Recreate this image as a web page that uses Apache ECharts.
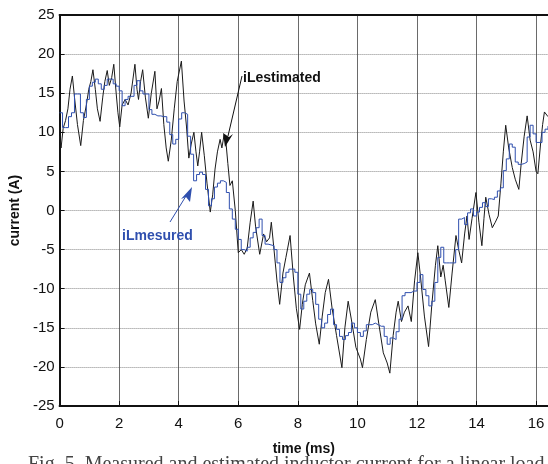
<!DOCTYPE html>
<html>
<head>
<meta charset="utf-8">
<script src="https://cdn.jsdelivr.net/npm/echarts@6/dist/echarts.min.js"></script>
<style>
  html, body { margin: 0; padding: 0; background: #fff; }
  #chart { width: 548px; height: 464px; }
</style>
</head>
<body>
<div id="chart"></div>
<script>
// Measured inductor current, sampled every 0.1 ms (held between samples)
const samplePeriod = 0.1;
const measuredValues = [
  12.5, 10.6, 10.6, 12.0, 12.5, 14.9, 14.9, 12.5, 11.9, 14.2,
  15.9, 16.4, 16.8, 16.2, 15.5, 16.0, 16.8, 16.8, 16.2, 15.9,
  15.3, 13.4, 14.2, 14.6, 14.6, 16.0, 16.6, 15.3, 14.9, 14.9,
  12.9, 12.3, 12.1, 12.1, 12.0, 12.0, 11.3, 9.7, 8.5, 9.1,
  11.7, 12.5, 12.3, 9.5, 7.2, 3.8, 4.6, 4.9, 4.6, 2.7,
  0.6, 1.5, 3.0, 3.5, 3.8, 3.6, 2.3, 0.2, -1.1, -2.4,
  -3.7, -5.0, -5.2, -4.7, -3.5, -2.8, -2.2, -1.1, -3.2, -4.3,
  -4.4, -4.5, -5.0, -6.7, -9.2, -8.6, -7.9, -7.5, -7.5, -7.9,
  -10.7, -12.6, -11.6, -10.7, -10.1, -10.5, -12.0, -13.9, -15.0, -14.4,
  -13.3, -12.6, -14.6, -15.2, -16.1, -16.5, -16.0, -15.6, -14.4, -15.0,
  -15.6, -16.1, -15.4, -14.6, -14.6, -14.4, -14.6, -14.8, -14.8, -16.1,
  -17.1, -16.3, -16.5, -15.5, -13.9, -10.9, -10.5, -10.5, -10.3, -10.3,
  -9.2, -8.2, -10.1, -10.9, -12.2, -11.6, -9.2, -6.0, -4.7, -6.7,
  -6.7, -6.7, -6.7, -5.0, -1.1, -0.9, -1.8, -0.3, 0.2, -0.7,
  -0.2, 0.4, 1.0, 0.5, 1.5, 1.4, 1.7, 2.5, 2.9, 5.1,
  6.6, 8.5, 8.1, 6.2, 5.9, 6.0, 6.2, 9.4, 10.9, 9.8,
  8.7, 8.7, 10.0, 10.4, 10.8
];

// Estimated inductor current (time in ms, current in A)
const estimatedTimes = [
  0.00, 0.05, 0.12, 0.20, 0.28, 0.35, 0.43, 0.50, 0.60, 0.71,
  0.80, 0.90, 0.98, 1.05, 1.12, 1.20, 1.27, 1.36, 1.45, 1.52,
  1.60, 1.67, 1.75, 1.82, 1.90, 1.96, 2.02, 2.10, 2.20, 2.30,
  2.40, 2.53, 2.60, 2.65, 2.72, 2.79, 2.88, 2.98, 3.08, 3.20,
  3.27, 3.34, 3.42, 3.50, 3.58, 3.65, 3.75, 3.85, 3.95, 4.09,
  4.18, 4.26, 4.34, 4.42, 4.51, 4.58, 4.64, 4.70, 4.77, 4.86,
  4.95, 5.06, 5.14, 5.22, 5.30, 5.39, 5.45, 5.52, 5.58, 5.65,
  5.72, 5.80, 5.90, 6.00, 6.10, 6.20, 6.30, 6.40, 6.50, 6.58,
  6.72, 6.85, 6.95, 7.05, 7.11, 7.20, 7.30, 7.39, 7.50, 7.60,
  7.74, 7.85, 7.95, 8.06, 8.15, 8.25, 8.39, 8.50, 8.60, 8.72,
  8.82, 8.92, 9.03, 9.15, 9.30, 9.48, 9.58, 9.69, 9.80, 9.95,
  10.10, 10.17, 10.30, 10.45, 10.60, 10.72, 10.87, 11.00, 11.09, 11.20,
  11.30, 11.37, 11.48, 11.58, 11.70, 11.81, 11.92, 12.03, 12.12, 12.25,
  12.39, 12.50, 12.62, 12.70, 12.80, 12.88, 12.95, 13.07, 13.18, 13.31,
  13.40, 13.50, 13.60, 13.68, 13.75, 13.85, 13.98, 14.08, 14.18, 14.25,
  14.31, 14.42, 14.53, 14.63, 14.73, 14.82, 14.90, 14.98, 15.08, 15.20,
  15.30, 15.42, 15.50, 15.60, 15.70, 15.80, 15.90, 16.00, 16.06, 16.15,
  16.22, 16.28, 16.40
];
const estimatedValues = [
  9.5, 8.0, 10.5, 11.5, 13.0, 15.5, 17.2, 14.5, 11.0, 8.3,
  11.5, 13.5, 15.5, 16.5, 18.0, 15.5, 13.0, 11.4, 14.5, 16.5,
  17.9, 16.0, 17.0, 18.7, 15.0, 12.5, 10.7, 13.5, 14.2, 13.5,
  15.0, 18.7, 15.5, 14.2, 16.5, 18.0, 14.5, 11.8, 15.0, 17.8,
  13.0, 14.0, 15.6, 11.0, 8.0, 6.3, 9.0, 13.0, 16.5, 19.1,
  14.0, 10.8, 6.7, 8.5, 10.0, 7.5, 5.7, 7.5, 10.0, 7.0,
  3.5, -0.2, 2.0, 5.3, 7.5, 9.1, 8.0, 9.6, 9.0, 6.0,
  3.2, 3.8, 0.0, -5.4, -5.0, -5.6, -4.8, -1.5, 1.2, -2.0,
  -5.6, -3.0, -4.0, -3.5, -1.5, -5.0, -9.0, -12.0, -8.0, -6.0,
  -3.2, -8.5, -12.5, -15.2, -12.0, -9.5, -8.0, -11.5, -14.5, -17.1,
  -13.5, -10.5, -8.8, -12.5, -16.0, -20.1, -15.0, -11.6, -14.0, -17.5,
  -19.0, -20.1, -16.5, -13.0, -11.4, -14.5, -18.2, -19.5, -20.8, -16.0,
  -13.0, -11.6, -14.2, -13.0, -12.2, -14.2, -9.0, -5.4, -8.5, -13.5,
  -17.4, -12.0, -7.0, -4.5, -8.5, -7.0, -9.0, -12.4, -8.0, -3.2,
  -5.0, -6.7, -3.0, -0.7, -3.7, -1.0, 2.3, -1.5, -4.5, -1.0,
  1.7, -0.5, -2.2, -1.5, -0.7, 3.5, 7.5, 10.9, 8.0, 5.5,
  4.0, 2.7, 6.0, 9.5, 12.1, 9.0, 7.5, 5.0, 4.7, 8.5,
  11.0, 12.6, 12.0
];

// Axis ticks
const xTicks = [0, 2, 4, 6, 8, 10, 12, 14, 16];
const yTicks = [-25, -20, -15, -10, -5, 0, 5, 10, 15, 20, 25];

const measuredData = measuredValues.map((v, i) => [+(i * samplePeriod).toFixed(2), v]);
const estimatedData = estimatedTimes.map((t, i) => [t, estimatedValues[i]]);

const chart = echarts.init(document.getElementById('chart'), null, { renderer: 'canvas' });
const sansFont = 'Liberation Sans, Arial, sans-serif';
const blue = '#2f4fae';

chart.setOption({
  backgroundColor: '#ffffff',
  animation: false,
  grid: { left: 58, top: 15, width: 492, height: 391, containLabel: false },
  xAxis: [{
    type: 'value',
    min: xTicks[0],
    max: 16.4,
    interval: 2,
    axisLine: { onZero: false, lineStyle: { color: '#111', width: 2 } },
    axisTick: { inside: true, length: 5, lineStyle: { color: '#111' } },
    axisLabel: { color: '#111', fontSize: 15, fontFamily: sansFont, margin: 10, showMaxLabel: false },
    splitLine: { show: true, lineStyle: { color: '#444', width: 0.8 } },
    name: 'time (ms)',
    nameLocation: 'middle',
    nameGap: 36,
    nameTextStyle: { color: '#111', fontSize: 14, fontWeight: 'bold', fontFamily: sansFont }
  }, {
    type: 'value',
    position: 'top',
    min: xTicks[0],
    max: 16.4,
    interval: 2,
    axisLine: { show: true, onZero: false, lineStyle: { color: '#111', width: 2 } },
    axisTick: { show: false },
    axisLabel: { show: false },
    splitLine: { show: false }
  }],
  yAxis: {
    type: 'value',
    min: yTicks[0],
    max: yTicks[yTicks.length - 1],
    interval: 5,
    axisLine: { onZero: false, lineStyle: { color: '#111', width: 2 } },
    axisTick: { inside: true, length: 5, lineStyle: { color: '#111' } },
    axisLabel: { color: '#111', fontSize: 15, fontFamily: sansFont, margin: 5 },
    splitLine: { show: true, lineStyle: { color: '#888', width: 1, type: [1, 1] } },
    name: 'current (A)',
    nameLocation: 'middle',
    nameGap: 32,
    nameRotate: 90,
    nameTextStyle: { color: '#111', fontSize: 14, fontWeight: 'bold', fontFamily: sansFont }
  },
  series: [
    {
      name: 'iLestimated',
      type: 'line',
      data: estimatedData,
      showSymbol: false,
      lineStyle: { color: '#1a1a1a', width: 1 },
      z: 3
    },
    {
      name: 'iLmesured',
      type: 'line',
      step: 'end',
      data: measuredData,
      showSymbol: false,
      lineStyle: { color: blue, width: 1 },
      z: 4
    }
  ],
  graphic: [
    // estimated-current label and arrow
    { type: 'text', left: 243, top: 71, style: { text: 'iLestimated', fill: '#111', font: 'bold 14px Liberation Sans, Arial, sans-serif' }, z: 10 },
    { type: 'line', shape: { x1: 242, y1: 76, x2: 228, y2: 136 }, style: { stroke: '#111', lineWidth: 1 }, z: 10 },
    { type: 'polygon', shape: { points: [[225, 147], [223, 133], [229, 137], [233, 134]] }, style: { fill: '#111' }, z: 10 },
    // measured-current label and arrow
    { type: 'text', left: 122, top: 229, style: { text: 'iLmesured', fill: blue, font: 'bold 14px Liberation Sans, Arial, sans-serif' }, z: 10 },
    { type: 'line', shape: { x1: 170, y1: 222, x2: 186, y2: 196 }, style: { stroke: blue, lineWidth: 1 }, z: 10 },
    { type: 'polygon', shape: { points: [[192, 187], [190, 202], [186, 197], [181, 199]] }, style: { fill: blue }, z: 10 },
    // figure caption
    { type: 'text', left: 28, top: 455, style: { text: 'Fig. 5. Measured and estimated inductor current for a linear load', fill: '#444', font: '20px Liberation Serif, Times New Roman, serif' }, z: 10 }
  ]
});
</script>
</body>
</html>
